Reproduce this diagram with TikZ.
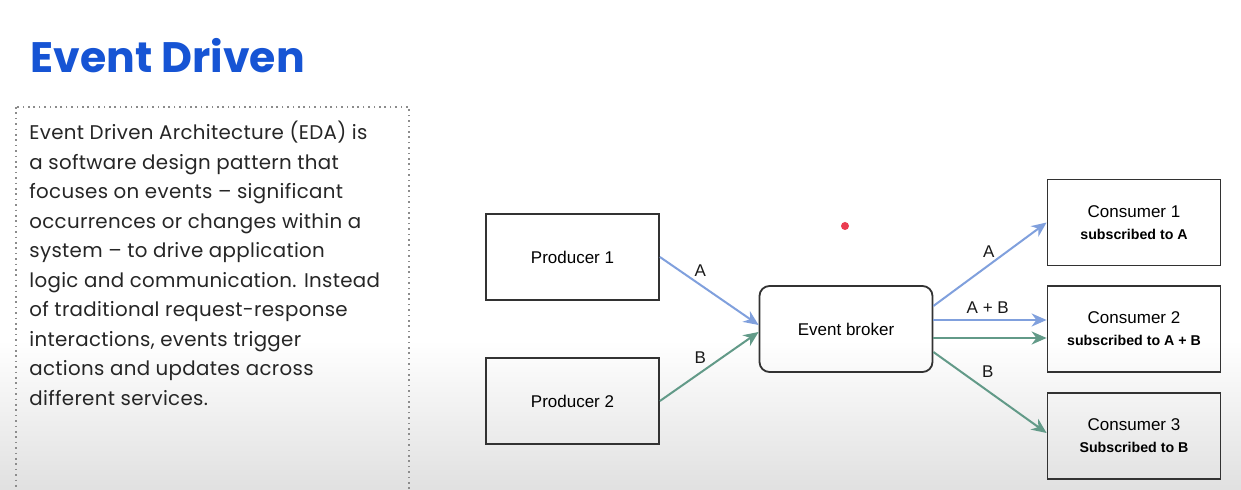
\documentclass[tikz,border=0pt]{standalone}
\usepackage{fontspec}
\setmainfont{Liberation Sans}
\newfontfamily\poppins{Poppins}
\newfontfamily\poppinsbody{Poppins}[LetterSpace=1.6]
\usepackage{xcolor}
\usetikzlibrary{arrows.meta,positioning}

\definecolor{titleblue}{RGB}{22,84,212}
\definecolor{boxgray}{RGB}{50,50,50}
\definecolor{flowblue}{RGB}{128,160,221}
\definecolor{flowgreen}{RGB}{98,154,136}
\definecolor{pointred}{RGB}{235,60,80}
\newcommand{\subtext}[1]{{\bfseries\fontsize{7.1}{11}\selectfont #1}}

\begin{document}
\begin{tikzpicture}[x=0.5pt, y=-0.5pt,
    box/.style={draw=boxgray, line width=0.9pt, minimum width=86.5pt, minimum height=43pt,
        inner sep=0pt, align=center, font=\fontsize{8.5}{11}\selectfont},
    flow/.style={line width=1pt, -{Stealth[length=7.5pt,width=6.5pt,inset=2.4pt]}},
    lbl/.style={inner sep=1pt, text=black!90, font=\fontsize{8.5}{10}\selectfont}]
    \useasboundingbox (0,0) rectangle (1241,490);
    \fill[white] (0,0) rectangle (1241,490);
    \shade[top color=white, bottom color=black!12] (0,340) rectangle (1241,490);

    % title and text
    \node[anchor=base west, inner sep=0pt, text=titleblue, font=\poppins\bfseries\fontsize{21.3}{24}\selectfont] (title) at (30,73) {Event Driven};
    \draw[black!45, line width=0.8pt, dash pattern=on 0.8pt off 1.9pt] (16,107) rectangle (409,520);
    \foreach \l [count=\i] in {Event Driven Architecture (EDA) is,
                               a software design pattern that,
                               focuses on events – significant,
                               occurrences or changes within a,
                               system – to drive application,
                               logic and communication. Instead,
                               of traditional request-response,
                               {interactions, events trigger},
                               actions and updates across,
                               different services.}
        \node[anchor=base west, inner sep=0pt, text=black!85, font=\poppinsbody\fontsize{9.9}{14}\selectfont] (line\i) at (29,{140+29.5*(\i-1)}) {\l};

    % producers, broker, consumers
    \node[box] (prod1) at (572.5,257) {Producer 1};
    \node[box] (prod2) at (572.5,401) {Producer 2};
    \node[box, rounded corners=5pt] (broker) at (846,329) {Event broker};
    \node[box] (cons1) at (1134,222.5) {Consumer 1\\\subtext{subscribed to A}};
    \node[box] (cons2) at (1134,329) {Consumer 2\\\subtext{subscribed to A + B}};
    \node[box] (cons3) at (1134,436) {Consumer 3\\\subtext{Subscribed to B}};

    \fill[pointred] (845,226) circle (2pt);

    % events
    \draw[flow, flowblue] (prod1.east) -- node[lbl, pos=0.41, above=2.7pt] (la1) {A} ([yshift=2pt]broker.west);
    \draw[flow, flowgreen] (prod2.east) -- node[lbl, pos=0.41, above=3pt] (lb1) {B} ([yshift=-1.5pt]broker.west);
    \draw[flow, flowblue] ([yshift=11.5pt]broker.east) -- node[lbl, pos=0.49, above=2.5pt] (la2) {A} (cons1.west);
    \draw[flow, flowblue] ([yshift=4.5pt]broker.east) -- node[lbl, pos=0.48, above=1.5pt] (lab) {A + B} ([yshift=4.5pt]cons2.west);
    \draw[flow, flowgreen] ([yshift=-4.5pt]broker.east) -- ([yshift=-4.5pt]cons2.west);
    \draw[flow, flowgreen] ([yshift=-11.5pt]broker.east) -- node[lbl, pos=0.48, above=5pt] (lb2) {B} ([yshift=1.5pt]cons3.west);
\end{tikzpicture}
\end{document}
